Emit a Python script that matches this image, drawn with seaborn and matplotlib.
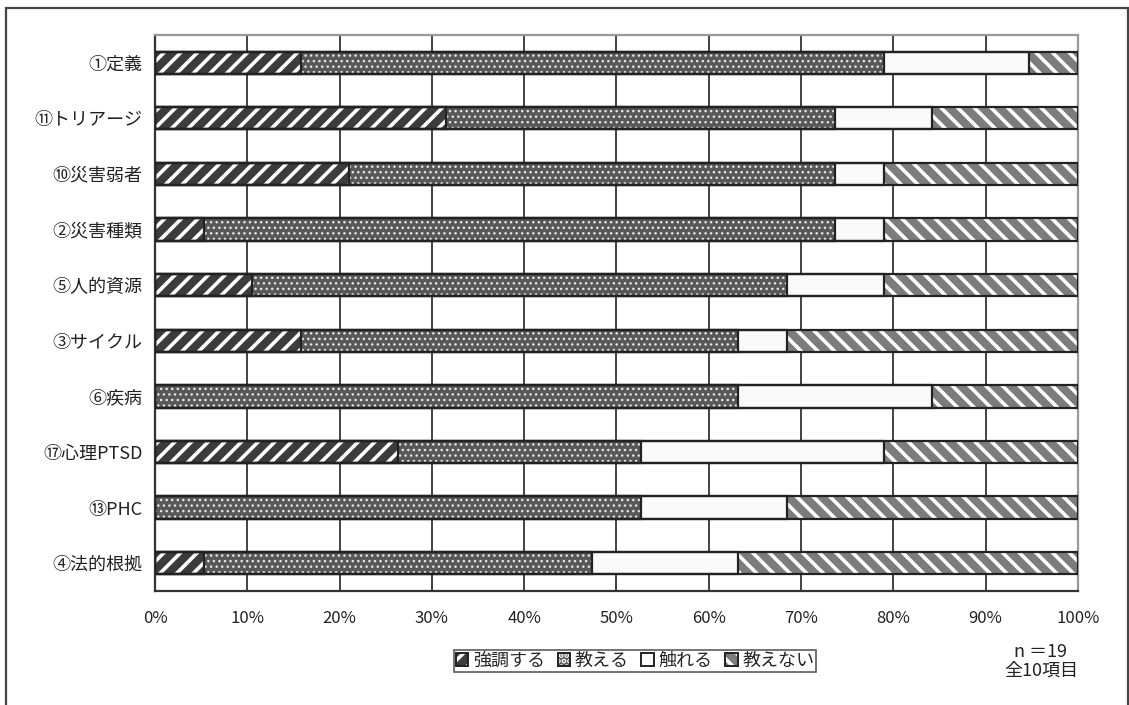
"""災害看護教育項目 — 教授の程度 (n=19) 100% 積み上げ横棒."""
import matplotlib
matplotlib.use("Agg")
import matplotlib.pyplot as plt
import matplotlib.patches as mpatches
from matplotlib.legend_handler import HandlerTuple
import numpy as np
import pandas as pd
import seaborn as sns

N = 19
CATS = ["①定義", "⑪トリアージ", "⑩災害弱者", "②災害種類", "⑤人的資源",
        "③サイクル", "⑥疾病", "⑰心理PTSD", "⑬PHC", "④法的根拠"]
# 人数 (n=19)
KYOCHO = [3, 6, 4, 1, 2, 3, 0, 5, 0, 1]      # 強調する
OSHIERU = [12, 8, 10, 13, 11, 9, 12, 5, 10, 8]  # 教える
FURERU = [3, 2, 1, 1, 2, 1, 4, 5, 3, 3]       # 触れる
NASHI = [1, 3, 4, 4, 4, 6, 3, 4, 6, 7]        # 教えない
SERIES = ["強調する", "教える", "触れる", "教えない"]
XTICKS = [0, 10, 20, 30, 40, 50, 60, 70, 80, 90, 100]

sns.set_style("white")
plt.rcParams["font.family"] = ["Noto Sans CJK JP", "DejaVu Sans"]
plt.rcParams["hatch.linewidth"] = 2.6

STYLE = {  # facecolor, hatch, hatch linewidth
    "強調する": ("#3c3c3c", "//", 2.6),
    "教える": ("#585858", "...", 1.0),
    "触れる": ("#fafafa", None, 0),
    "教えない": ("#7c7c7c", "\\\\", 2.6),
}


def hatch_lw(p, lw):
    if hasattr(p, "set_hatch_linewidth"):
        p.set_hatch_linewidth(lw)


df = pd.DataFrame({"cat": CATS, "強調する": KYOCHO, "教える": OSHIERU,
                   "触れる": FURERU, "教えない": NASHI})
pct = df[SERIES].div(N).mul(100)
cum = pct.cumsum(axis=1)
cum["cat"] = CATS

fig = plt.figure(figsize=(11.29, 7.05), dpi=100)
ax = fig.add_axes([0.1373, 0.1617, 0.8175, 0.7887])

# draw from the longest cumulative bar to the shortest so segments stack
for s in reversed(SERIES):
    fc, h, hl = STYLE[s]
    n0 = len(ax.patches)
    sns.barplot(data=cum, x=s, y="cat", orient="h", color=fc, saturation=1,
                width=0.4, linewidth=0, edgecolor="white", ax=ax, zorder=2)
    for p in ax.patches[n0:]:
        p.set_facecolor(fc)
        if h:
            p.set_hatch(h)
            p.set_edgecolor("white" if s != "教える" else "#e6e6e6")
            hatch_lw(p, hl)
        p.set_linewidth(0)

# outlines
for p in list(ax.patches):
    x, y = p.get_x(), p.get_y()
    ax.add_patch(mpatches.Rectangle((x, y), p.get_width(), p.get_height(),
                                    fill=False, edgecolor="#222222", lw=1.6, zorder=3))

ax.set_xlim(0, 100)
ax.set_ylim(len(CATS) - 0.5, -0.5)
ax.set_xticks(XTICKS)
ax.set_xticklabels([f"{v}%" for v in XTICKS], fontsize=12, color="#222")
ax.tick_params(axis="x", length=0, pad=14)
ax.tick_params(axis="y", which="major", length=0, pad=9, labelsize=13, labelcolor="#222")
ax.set_yticks(np.arange(-0.5, len(CATS), 1.0), minor=True)
ax.tick_params(axis="y", which="minor", direction="in", length=5, width=1.2, color="#333")
ax.set_xlabel("")
ax.set_ylabel("")

ax.set_axisbelow(True)
ax.xaxis.grid(True, color="#222", lw=1.2, zorder=0)
for side in ("top", "right"):
    ax.spines[side].set_color("#999999")
    ax.spines[side].set_linewidth(1.6)
for side in ("left", "bottom"):
    ax.spines[side].set_color("#333333")
    ax.spines[side].set_linewidth(1.6)

handles = []
for s in SERIES:
    fc, h, hl = STYLE[s]
    fill = mpatches.Patch(facecolor=fc, edgecolor="white" if h else fc, hatch=h, lw=0)
    hatch_lw(fill, min(hl, 1.2))
    edge = mpatches.Patch(facecolor="none", edgecolor="#222", lw=1.4)
    handles.append((fill, edge))
leg = fig.legend(handles, SERIES, handler_map={tuple: HandlerTuple(ndivide=1, pad=0)},
                 loc="center", bbox_to_anchor=(0.5625, 0.0624), ncol=4, fontsize=13,
                 frameon=True, fancybox=False, edgecolor="#333", borderpad=0.1,
                 handlelength=0.7, handleheight=0.7, handletextpad=0.25,
                 columnspacing=0.7, borderaxespad=0)
leg.get_frame().set_linewidth(1.2)

fig.text(0.922, 0.0624, "n ＝19\n全10項目", ha="center", va="center",
         fontsize=13, color="#222", linespacing=1.05)

fig.add_artist(mpatches.Rectangle((0.0053, -0.05), 0.9938, 1.0387,
                                  transform=fig.transFigure, fill=False,
                                  edgecolor="#444", lw=1.6))

fig.savefig("out.png", dpi=100, facecolor="white")
